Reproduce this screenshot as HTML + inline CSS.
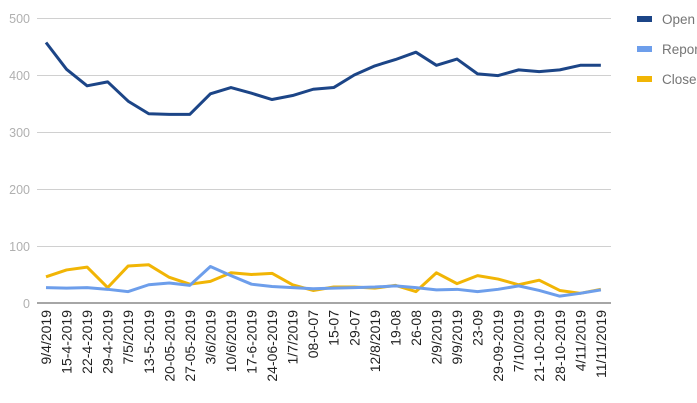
<!DOCTYPE html>
<html><head><meta charset="utf-8"><style>body{margin:0;background:#fff}svg{display:block;font-family:"Liberation Sans",sans-serif}</style></head>
<body>
<svg width="697" height="403" viewBox="0 0 697 403">
<g stroke="#d0d0d0" stroke-width="1">
<line x1="37" x2="611" y1="18.5" y2="18.5"/><line x1="37" x2="611" y1="75.5" y2="75.5"/><line x1="37" x2="611" y1="132.5" y2="132.5"/><line x1="37" x2="611" y1="189.5" y2="189.5"/><line x1="37" x2="611" y1="246.5" y2="246.5"/>
</g>
<line x1="37" x2="611" y1="303" y2="303" stroke="#888" stroke-width="1.5"/>
<g fill="#b0b0b0" font-size="12.5" text-anchor="end">
<text x="30" y="23">500</text><text x="30" y="80">400</text><text x="30" y="137">300</text><text x="30" y="194">200</text><text x="30" y="251">100</text><text x="30" y="308">0</text>
</g>
<g id="lines" fill="none" stroke-width="3" stroke-linejoin="round"></g>
<g id="labels" font-size="14" fill="#222" text-anchor="end"></g>
<rect x="637" y="16" width="15" height="6" fill="#1c4587"/>
<rect x="637" y="46" width="15" height="6" fill="#6d9eeb"/>
<rect x="637" y="76" width="15" height="6" fill="#f1b505"/>
<g fill="#757575" font-size="13.5"><text x="662" y="24">Open</text><text x="662" y="54">Reported</text><text x="662" y="84">Closed</text></g>
<script>
var labs=["9/4/2019","15-4-2019","22-4-2019","29-4-2019","7/5/2019","13-5-2019","20-05-2019","27-05-2019","3/6/2019","10/6/2019","17-6-2019","24-06-2019","1/7/2019","08-0-07","15-07","29-07","12/8/2019","19-08","26-08","2/9/2019","9/9/2019","23-09","29-09-2019","7/10/2019","21-10-2019","28-10-2019","4/11/2019","11/11/2019"];
var open=[457,410,381,388,354,332,331,331,367,378,368,357,364,375,378,400,416,427,440,417,428,402,399,409,406,409,417,417];
var rep=[27,26,27,24,20,32,35,31,64,48,33,29,27,25,26,27,28,30,27,23,24,20,24,30,22,12,17,23];
var clo=[46,58,63,27,65,67,45,33,38,53,50,52,32,22,28,28,26,31,20,53,34,48,42,32,40,22,17,24];
var ns="http://www.w3.org/2000/svg";
function X(i){return 46+i*20.55}function Y(v){return 303-v*0.57}
var g=document.getElementById("lines");
[[clo,"#f1b505"],[rep,"#6d9eeb"],[open,"#1c4587"]].forEach(function(s){var p=document.createElementNS(ns,"polyline");p.setAttribute("points",s[0].map(function(v,i){return X(i)+","+Y(v)}).join(" "));p.setAttribute("stroke",s[1]);g.appendChild(p);});
var lg=document.getElementById("labels");
labs.forEach(function(t,i){var e=document.createElementNS(ns,"text");e.setAttribute("transform","translate("+(X(i)+5)+",310) rotate(-90)");e.textContent=t;lg.appendChild(e);});
</script>
</svg>
</body></html>
